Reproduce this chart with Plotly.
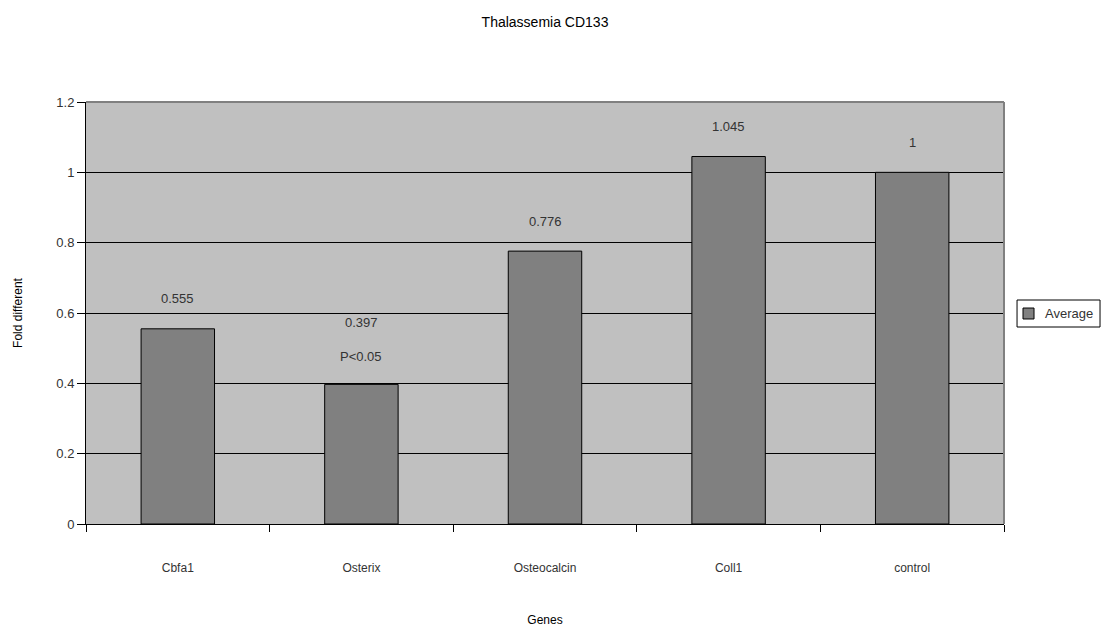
import plotly.graph_objects as go

# Gene expression fold change relative to control
genes = ["Cbfa1", "Osterix", "Osteocalcin", "Coll1", "control"]
average = [0.555, 0.397, 0.776, 1.045, 1.0]
value_labels = ["0.555", "0.397", "0.776", "1.045", "1"]
y_ticks = [0, 0.2, 0.4, 0.6, 0.8, 1.0, 1.2]
y_tick_text = ["0", "0.2", "0.4", "0.6", "0.8", "1", "1.2"]
series_name = "Average"

FONT = "Liberation Sans, Arial, sans-serif"
BAR_COLOR = "#808080"

fig = go.Figure()
fig.add_trace(go.Bar(
    x=genes,
    y=average,
    name=series_name,
    width=0.4,
    showlegend=False,
    marker=dict(color=BAR_COLOR, line=dict(color="#000000", width=1)),
))

# Value labels above each bar
for g, v, t in zip(genes, average, value_labels):
    shift = 62 if g == "Osterix" else 30
    fig.add_annotation(x=g, y=v, text=t, showarrow=False, yshift=shift,
                       font=dict(family=FONT, size=13, color="#333333"))

# Significance note for Osterix
fig.add_annotation(x="Osterix", y=average[1], text="P<0.05", showarrow=False,
                   yshift=28, font=dict(family=FONT, size=13, color="#333333"))

# Plot area frame (top and right edges)
fig.add_shape(type="line", xref="paper", yref="paper", x0=0, x1=1, y0=1, y1=1,
              line=dict(color="#808080", width=2), layer="above")
fig.add_shape(type="line", xref="paper", yref="paper", x0=1, x1=1, y0=0, y1=1,
              line=dict(color="#808080", width=2), layer="above")

# Compact legend box to the right of the plot area
fig.add_shape(type="rect", xref="paper", yref="paper",
              x0=1.0142, x1=1.1046, y0=0.4668, y1=0.5308,
              line=dict(color="#000000", width=1), fillcolor="#ffffff")
fig.add_shape(type="rect", xref="paper", yref="paper",
              x0=1.0207, x1=1.0327, y0=0.4858, y1=0.5118,
              line=dict(color="#000000", width=1), fillcolor=BAR_COLOR)
fig.add_annotation(xref="paper", yref="paper", x=1.0425, y=0.4988,
                   xanchor="left", yanchor="middle", text=series_name,
                   showarrow=False,
                   font=dict(family=FONT, size=13, color="#333333"))

fig.update_layout(
    width=1104, height=629,
    margin=dict(l=86, r=100, t=102, b=105, autoexpand=False),
    paper_bgcolor="#ffffff",
    plot_bgcolor="#c0c0c0",
    font=dict(family=FONT, size=12, color="#333333"),
    title=dict(text="Thalassemia CD133", x=0.5, xref="paper", y=0.965,
               yanchor="middle",
               font=dict(family=FONT, size=14, color="#000000")),
    showlegend=False,
    bargap=0.6,
)

fig.update_xaxes(
    type="category",
    tickson="boundaries",
    ticks="outside", ticklen=7, tickcolor="#000000",
    showline=True, linecolor="#000000", linewidth=1,
    showgrid=False,
    ticklabelstandoff=33,
    tickfont=dict(family=FONT, size=12, color="#333333"),
    title=dict(text="Genes", standoff=41,
               font=dict(family=FONT, size=12, color="#000000")),
)

fig.update_yaxes(
    range=[0, 1.2],
    tickvals=y_ticks, ticktext=y_tick_text,
    ticks="outside", ticklen=8, tickcolor="#000000",
    showline=True, linecolor="#000000", linewidth=1,
    showgrid=True, gridcolor="#000000", gridwidth=1,
    zeroline=False,
    tickfont=dict(family=FONT, size=13, color="#333333"),
    title=dict(text="Fold different", standoff=31,
               font=dict(family=FONT, size=12, color="#000000")),
)

fig.write_html("out.html")
